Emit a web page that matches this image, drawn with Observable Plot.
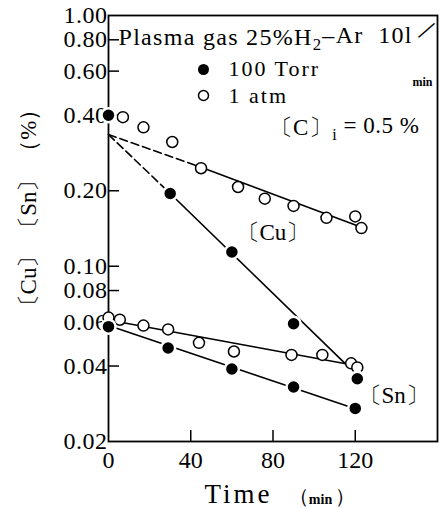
<!DOCTYPE html>
<html><head><meta charset="utf-8">
<script src="https://cdn.jsdelivr.net/npm/d3@7"></script>
<script src="https://cdn.jsdelivr.net/npm/@observablehq/plot@0.6"></script>
<style>
body{margin:0;background:#fff;}
svg{display:block;}
#chart svg, #chart svg text {font-family: "Liberation Serif", "DejaVu Serif", serif !important; font-feature-settings: "halt";}
</style>
</head><body><div id="chart"></div>
<script>
// ---- data ----
const cuTorrTime = [0, 30, 60, 90, 121];
const cuTorrVal  = [0.40, 0.195, 0.114, 0.059, 0.0356];
const cuAtmTime  = [7, 17, 31, 45, 63, 76, 90, 106, 120, 123];
const cuAtmVal   = [0.393, 0.358, 0.313, 0.246, 0.207, 0.186, 0.174, 0.156, 0.158, 0.142];
const snAtmTime  = [0, 5.5, 17, 29, 44, 61, 89, 104, 118, 121];
const snAtmVal   = [0.0624, 0.0612, 0.058, 0.056, 0.0495, 0.0457, 0.0443, 0.0443, 0.041, 0.0395];
const snTorrTime = [0, 29, 60, 90, 120];
const snTorrVal  = [0.0574, 0.0472, 0.0389, 0.033, 0.0271];

// fitted lines (end points)
const cuTorrDashTime = [0, 30],   cuTorrDashVal = [0.335, 0.195];
const cuTorrFitTime  = [30, 115], cuTorrFitVal  = [0.195, 0.041];
const cuAtmDashTime  = [0, 45],   cuAtmDashVal  = [0.335, 0.248];
const cuAtmFitTime   = [45, 123], cuAtmFitVal   = [0.248, 0.143];
const snAtmFitTime   = [0, 118],  snAtmFitVal   = [0.061, 0.0405];
const snTorrFitTime  = [0, 120],  snTorrFitVal  = [0.058, 0.027];

const xTicks = [0, 40, 80, 120];
const yTicks = [0.02, 0.04, 0.06, 0.08, 0.1, 0.2, 0.4, 0.6, 0.8, 1.0];
const yTickLabels = ["0.02", "0.04", "0.06", "0.08", "0.10", "0.20", "0.40", "0.60", "0.80", "1.00"];

const titleText = "Plasma gas 25%H_2–Ar  10l";
const legendLabels = ["100 Torr", "1 atm"];
const carbonText = "〔C〕_i = 0.5 %";
const yLabel = "〔Cu〕 〔Sn〕 （%）";
const xLabel = "Time";

const zip = (t, v) => t.map((d, i) => ({t: d, v: v[i]}));

const A = {frameAnchor: "top-left"}; // anchored at the frame's top-left corner

const chart = Plot.plot({
  width: 442,
  height: 508,
  marginLeft: 108,
  marginRight: 5,
  marginTop: 15,
  marginBottom: 67,
  style: {fontSize: "22px", color: "black", background: "white"},
  x: {domain: [0, 160]},
  y: {type: "log", domain: [0.02, 1.0], axis: null},
  marks: [
    Plot.frame({strokeWidth: 1.8}),
    Plot.tickX(xTicks.filter(d => d > 0), {x: d => d, insetTop: 415, strokeWidth: 1.5}),
    Plot.tickY(yTicks.filter(d => d > 0.02 && d < 1), {y: d => d, insetRight: 318, strokeWidth: 1.5}),
    Plot.axisX(xTicks, {tickSize: 0, tickPadding: 9, label: null, fontSize: 24}),
    Plot.text(yTicks, {y: d => d, frameAnchor: "left", dx: -1, textAnchor: "end", lineAnchor: "middle",
      text: (d, i) => yTickLabels[i], fontSize: 24}),
    // lines
    Plot.line(zip(cuTorrDashTime, cuTorrDashVal), {x: "t", y: "v", strokeWidth: 1.6, strokeDasharray: "8,4"}),
    Plot.line(zip(cuAtmDashTime, cuAtmDashVal), {x: "t", y: "v", strokeWidth: 1.6, strokeDasharray: "8,4"}),
    Plot.line(zip(cuTorrFitTime, cuTorrFitVal), {x: "t", y: "v", strokeWidth: 1.6}),
    Plot.line(zip(cuAtmFitTime, cuAtmFitVal), {x: "t", y: "v", strokeWidth: 1.6}),
    Plot.line(zip(snAtmFitTime, snAtmFitVal), {x: "t", y: "v", strokeWidth: 1.6}),
    Plot.line(zip(snTorrFitTime, snTorrFitVal), {x: "t", y: "v", strokeWidth: 1.6}),
    // points
    Plot.dot(zip(cuAtmTime, cuAtmVal), {x: "t", y: "v", r: 5.5, fill: "white", stroke: "black", strokeWidth: 1.5}),
    Plot.dot(zip(snAtmTime, snAtmVal), {x: "t", y: "v", r: 5.5, fill: "white", stroke: "black", strokeWidth: 1.5}),
    Plot.dot(zip(cuTorrTime, cuTorrVal), {x: "t", y: "v", r: 7, fill: "black", stroke: "white", strokeWidth: 2.5}),
    Plot.dot(zip(snTorrTime, snTorrVal), {x: "t", y: "v", r: 7, fill: "black", stroke: "white", strokeWidth: 2.5}),
    // legend
    Plot.dot([0], {...A, dx: 95, dy: 54, r: 5.5, fill: "black"}),
    Plot.dot([0], {...A, dx: 95, dy: 80, r: 5, fill: "white", stroke: "black", strokeWidth: 1.5}),
    Plot.text([legendLabels[0]], {...A, dx: 120, dy: 53, textAnchor: "start", lineAnchor: "middle", fontSize: 22}),
    Plot.text([legendLabels[1]], {...A, dx: 120, dy: 80, textAnchor: "start", lineAnchor: "middle", fontSize: 22}),
    // annotations
    Plot.text([titleText], {...A, dx: 10, dy: 22, textAnchor: "start", lineAnchor: "middle", fontSize: 24}),
    Plot.text(["/"], {...A, dx: 318, dy: 15, textAnchor: "middle", lineAnchor: "middle", fontSize: 30, rotate: 30}),
    Plot.text(["min"], {...A, dx: 314, dy: 67, textAnchor: "middle", lineAnchor: "middle", fontSize: 12, fontWeight: "bold"}),
    Plot.text([carbonText], {...A, dx: 161, dy: 112, textAnchor: "start", lineAnchor: "middle", fontSize: 23}),
    Plot.text(["〔Cu〕"], {...A, dx: 128, dy: 217, textAnchor: "start", lineAnchor: "middle", fontSize: 23}),
    Plot.text(["〔Sn〕"], {...A, dx: 250, dy: 380, textAnchor: "start", lineAnchor: "middle", fontSize: 23}),
    Plot.text([yLabel], {...A, dx: -80, dy: 192, textAnchor: "middle", lineAnchor: "middle", rotate: -90, fontSize: 23}),
    Plot.text([xLabel], {...A, dx: 96, dy: 479, textAnchor: "start", lineAnchor: "middle", fontSize: 27}),
    Plot.text(["（"], {...A, dx: 180, dy: 481, textAnchor: "start", lineAnchor: "middle", fontSize: 20}),
    Plot.text(["min"], {...A, dx: 212, dy: 484, textAnchor: "middle", lineAnchor: "middle", fontSize: 14, fontWeight: "bold"}),
    Plot.text(["）"], {...A, dx: 226, dy: 481, textAnchor: "start", lineAnchor: "middle", fontSize: 20})
  ]
});

// letter spacing of the wide-set labels (Plot.text has no option for it)
const spacing = new Map([
  [titleText, "1.3px"], [legendLabels[0], "2px"], [legendLabels[1], "2px"],
  [carbonText, "0.5px"], [xLabel, "3px"]
]);
d3.select(chart).selectAll("text").each(function() {
  const s = spacing.get(this.textContent);
  if (s) this.style.letterSpacing = s;
});
d3.select(chart).selectAll("text").filter(function() { return yTickLabels.includes(this.textContent); })
  .style("letter-spacing", "0.5px");

// subscripts: "_x" -> lowered small x
d3.select(chart).selectAll("text").each(function() {
  const el = d3.select(this);
  if (this.childElementCount > 0) return;
  const s = this.textContent;
  const k = s.indexOf("_");
  if (k < 0) return;
  el.text(null).style("white-space", "pre");
  el.append("tspan").text(s.slice(0, k));
  el.append("tspan").attr("dy", "0.3em").attr("font-size", "0.7em").text(s[k + 1]);
  el.append("tspan").attr("dy", "-0.3em").text(s.slice(k + 2));
});

document.getElementById("chart").append(chart);
</script>
</body></html>
